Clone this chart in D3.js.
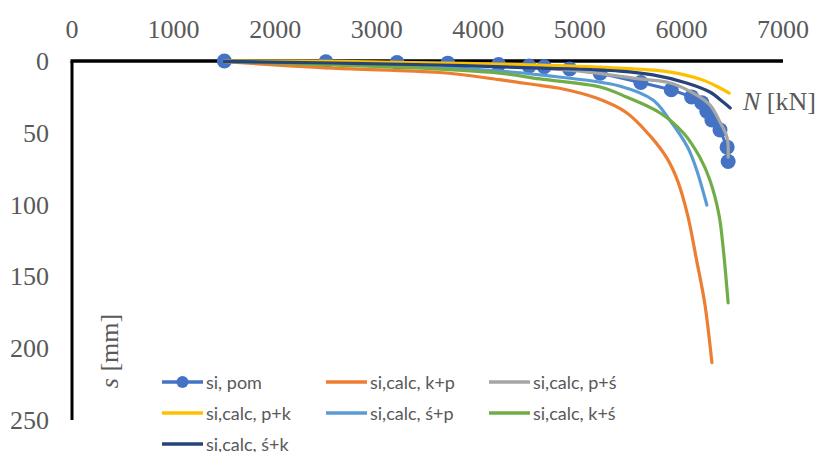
<!DOCTYPE html>
<html>
<head>
<meta charset="utf-8">
<script src="https://cdn.jsdelivr.net/npm/d3@7"></script>
<style>
  body { margin: 0; background: #fff; }
  svg { display: block; }
</style>
</head>
<body>
<script>
var w = 819, h = 452;

// tick labels
var xTicks = [0, 1000, 2000, 3000, 4000, 5000, 6000, 7000];
var yTicks = [0, 50, 100, 150, 200, 250];

// measured series (si, pom)
var pomN = [1500, 2500, 3200, 3700, 4200, 4500, 4650, 4900, 5200, 5600, 5900, 6100, 6200, 6250, 6300, 6380, 6450, 6460];
var pomS = [0, 0.5, 1, 1.5, 2.5, 3.5, 4, 5.5, 8.5, 15, 20, 25, 29, 35, 41, 48, 60, 70];

// calculated series
var kpN = [1500, 2570, 3620, 4210, 4610, 4800, 5170, 5460, 5690, 5860, 5960, 6060, 6150, 6230, 6300];
var kpS = [0.5, 5, 8, 13, 17, 19, 26, 36, 52, 68, 83, 107, 139, 169, 210];

var psN = [1500, 3230, 4210, 5000, 5590, 5890, 6150, 6280, 6380, 6450, 6460];
var psS = [0.3, 1.4, 3.5, 7, 12.5, 15.3, 23.7, 30.6, 42.5, 53.6, 67];

var pkN = [1500, 2570, 3620, 4610, 5390, 5890, 6210, 6380, 6470];
var pkS = [0, 0.3, 1.4, 2.8, 4.9, 7.7, 13.2, 18.8, 22.3];

var spN = [1500, 2570, 3620, 4210, 4610, 5390, 5720, 5870, 6060, 6150, 6250];
var spS = [0.3, 2.4, 4.2, 7, 9.7, 17.4, 27.2, 39.7, 59.9, 75.9, 100.3];

var ksN = [1500, 2570, 3620, 4210, 4610, 5200, 5460, 5790, 6020, 6180, 6280, 6370, 6410, 6460];
var ksS = [0.3, 2.8, 5.6, 8.4, 12.5, 18.1, 25.1, 36.2, 50.1, 66.9, 82.9, 107.2, 129.5, 168.5];

var skN = [1500, 2570, 3620, 4610, 5390, 5720, 6050, 6280, 6410, 6480];
var skS = [0.3, 1.4, 2.8, 4.9, 7, 9.7, 15.3, 21.6, 28.6, 32.7];

var seriesNames = ["si, pom", "si,calc, k+p", "si,calc, p+ś", "si,calc, p+k", "si,calc, ś+p", "si,calc, k+ś", "si,calc, ś+k"];
var seriesColors = ["#4472C4", "#ED7D31", "#A5A5A5", "#FFC000", "#5B9BD5", "#70AD47", "#264478"];

function zip(a, b) {
    return a.map(function(v, i) { return [v, b[i]]; });
}

var calcSeries = [
    zip(kpN, kpS), zip(psN, psS), zip(pkN, pkS),
    zip(spN, spS), zip(ksN, ksS), zip(skN, skS)
];

var svg = d3.select("body").append("svg")
    .attr("width", w)
    .attr("height", h);

var x = d3.scaleLinear().domain([0, 7000]).range([72, 783]);
var y = d3.scaleLinear().domain([0, 250]).range([61, 420]);

var textGrey = "#595959";
var serif = "'Liberation Serif', 'Times New Roman', serif";

// x tick labels (top)
svg.append("g").selectAll("text")
    .data(xTicks)
    .enter()
    .append("text")
    .attr("x", function(d) { return x(d); })
    .attr("y", 38)
    .attr("text-anchor", "middle")
    .attr("font-family", serif)
    .attr("font-size", "26px")
    .attr("fill", textGrey)
    .text(function(d) { return d; });

// y tick labels
svg.append("g").selectAll("text")
    .data(yTicks)
    .enter()
    .append("text")
    .attr("x", 49)
    .attr("y", function(d) { return y(d) + 9; })
    .attr("text-anchor", "end")
    .attr("font-family", serif)
    .attr("font-size", "26px")
    .attr("fill", textGrey)
    .text(function(d) { return d; });

// axis lines
svg.append("line")
    .attr("x1", x(0) - 1.5).attr("x2", x(7000))
    .attr("y1", y(0)).attr("y2", y(0))
    .style("stroke", "#000").style("stroke-width", 3.5);

svg.append("line")
    .attr("x1", x(0)).attr("x2", x(0))
    .attr("y1", y(0)).attr("y2", y(250))
    .style("stroke", "#000").style("stroke-width", 3);

// axis titles
var nLabel = svg.append("text")
    .attr("x", 743)
    .attr("y", 110)
    .attr("font-family", serif)
    .attr("font-size", "26px")
    .attr("fill", textGrey);
nLabel.append("tspan").attr("font-style", "italic").text("N");
nLabel.append("tspan").text(" [kN]");

var sLabel = svg.append("text")
    .attr("transform", "translate(118,351) rotate(-90)")
    .attr("text-anchor", "middle")
    .attr("font-family", serif)
    .attr("font-size", "26px")
    .attr("fill", textGrey);
sLabel.append("tspan").attr("font-style", "italic").text("s");
sLabel.append("tspan").text(" [mm]");

// measured series
var pomData = zip(pomN, pomS);
var straight = d3.line()
    .x(function(d) { return x(d[0]); })
    .y(function(d) { return y(d[1]); });

svg.append("path")
    .attr("d", straight(pomData))
    .attr("fill", "none")
    .attr("stroke", seriesColors[0])
    .attr("stroke-width", 3);

svg.append("g").selectAll("circle")
    .data(pomData)
    .enter()
    .append("circle")
    .attr("cx", function(d) { return x(d[0]); })
    .attr("cy", function(d) { return y(d[1]); })
    .attr("r", 7.5)
    .attr("fill", seriesColors[0]);

// calculated series, smoothed like Excel
var smooth = d3.line()
    .x(function(d) { return x(d[0]); })
    .y(function(d) { return y(d[1]); })
    .curve(d3.curveCatmullRom.alpha(0.5));

svg.append("g").selectAll("path")
    .data(calcSeries)
    .enter()
    .append("path")
    .attr("d", smooth)
    .attr("fill", "none")
    .attr("stroke", function(d, i) { return seriesColors[i + 1]; })
    .attr("stroke-width", 3.2)
    .attr("stroke-linecap", "round");

// legend
var colX = [162, 326, 489];
var rowY = [382, 413, 444];

var leg = svg.append("g").selectAll("g")
    .data(seriesNames)
    .enter()
    .append("g")
    .attr("transform", function(d, i) {
        return "translate(" + colX[i % 3] + "," + rowY[Math.floor(i / 3)] + ")";
    });

leg.append("line")
    .attr("x1", 0).attr("x2", 41)
    .attr("y1", 0).attr("y2", 0)
    .attr("stroke", function(d, i) { return seriesColors[i]; })
    .attr("stroke-width", 3.5);

leg.filter(function(d, i) { return i === 0; })
    .append("circle")
    .attr("cx", 20.5).attr("cy", 0).attr("r", 6)
    .attr("fill", seriesColors[0]);

leg.append("text")
    .attr("x", 44)
    .attr("y", 7)
    .attr("font-family", "Lato, 'Noto Sans', sans-serif")
    .attr("font-size", "18px")
    .attr("fill", textGrey)
    .text(function(d) { return d; });
</script>
</body>
</html>
